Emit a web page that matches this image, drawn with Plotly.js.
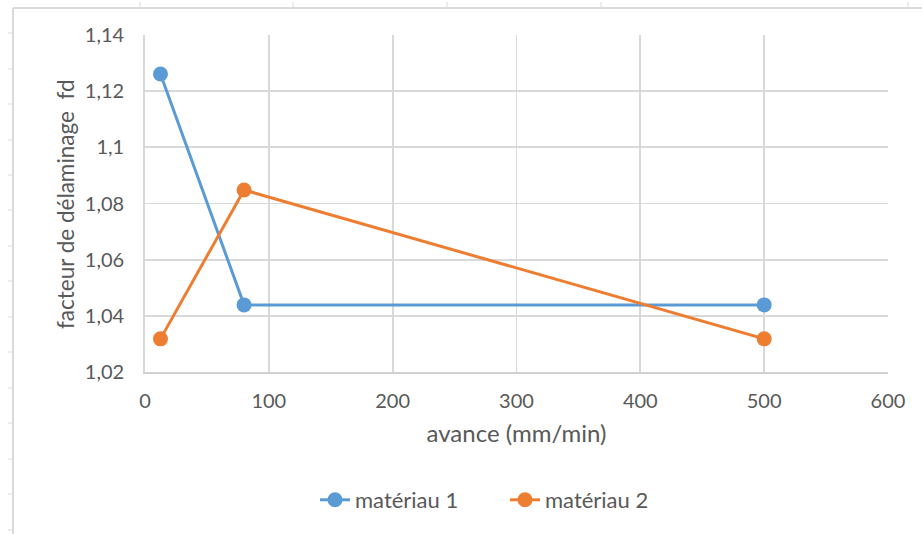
<!DOCTYPE html>
<html>
<head>
<meta charset="utf-8">
<script src="https://cdn.plot.ly/plotly-3.0.1.min.js"></script>
<style>html,body{margin:0;padding:0;background:#fff;}#chart{width:922px;height:534px;}</style>
</head>
<body>
<div id="chart"></div>
<script>
// Data
const avance = [12.5, 80, 500];
const materiau1 = [1.1261, 1.0439, 1.0439];
const materiau2 = [1.0318, 1.0848, 1.0318];
const seriesNames = ["matériau 1", "matériau 2"];
const xTickVals = [0, 100, 200, 300, 400, 500, 600];
const yTickVals = [1.02, 1.04, 1.06, 1.08, 1.1, 1.12, 1.14];
const yTickText = ["1,02", "1,04", "1,06", "1,08", "1,1", "1,12", "1,14"];
const xTitle = 'avance (mm/min)';
const yTitle = 'facteur de délaminage\u00A0 fd';

const W = 922, H = 534;
const M = {l: 145, r: 34, t: 35, b: 162};
const pw = W - M.l - M.r, ph = H - M.t - M.b;
const px = x => (x - M.l) / pw;
const py = y => 1 - (y - M.t) / ph;

const sheetColor = '#DADADA';
const shapes = [];
// spreadsheet frame lines
shapes.push({type: 'line', xref: 'paper', yref: 'paper', x0: px(13), x1: px(13), y0: py(8), y1: py(534), line: {color: sheetColor, width: 2}});
shapes.push({type: 'line', xref: 'paper', yref: 'paper', x0: px(13), x1: px(922), y0: py(8), y1: py(8), line: {color: sheetColor, width: 2}});
[33, 69, 104, 140, 175, 210, 246, 281, 317, 352, 388, 423, 459, 494, 530].forEach(y => {
  shapes.push({type: 'line', xref: 'paper', yref: 'paper', x0: px(8), x1: px(13), y0: py(y), y1: py(y), line: {color: sheetColor, width: 1}});
});
[140, 293, 447, 601, 908].forEach(x => {
  shapes.push({type: 'line', xref: 'paper', yref: 'paper', x0: px(x), x1: px(x), y0: py(2), y1: py(8), line: {color: sheetColor, width: 1}});
});

const font = {family: 'Lato, "Open Sans", sans-serif', color: '#595959'};

const traces = [
  {x: avance, y: materiau1, name: seriesNames[0], type: 'scatter', mode: 'lines+markers',
   line: {color: '#5B9BD5', width: 3}, marker: {color: '#5B9BD5', size: 15}},
  {x: avance, y: materiau2, name: seriesNames[1], type: 'scatter', mode: 'lines+markers',
   line: {color: '#ED7D31', width: 3}, marker: {color: '#ED7D31', size: 15}}
];

const layout = {
  width: W, height: H,
  margin: M,
  paper_bgcolor: '#fff', plot_bgcolor: '#fff',
  font: Object.assign({size: 20}, font),
  showlegend: true,
  legend: {orientation: 'h', x: px(315), xanchor: 'left', y: py(500), yanchor: 'middle',
           font: Object.assign({size: 22}, font), entrywidth: 145, entrywidthmode: 'pixels'},
  xaxis: {
    range: [0, 600], tickvals: xTickVals, ticktext: xTickVals.map(String),
    showgrid: true, gridcolor: '#D9D9D9', gridwidth: 1.8,
    zeroline: false, showline: true, linecolor: '#D0D0D0', linewidth: 1.8,
    ticks: 'outside', ticklen: 10, tickcolor: 'rgba(0,0,0,0)',
    tickfont: Object.assign({size: 20}, font),
    title: {text: xTitle, font: Object.assign({size: 24}, font), standoff: 14},
    fixedrange: true
  },
  yaxis: {
    range: [1.02, 1.14], tickvals: yTickVals, ticktext: yTickText,
    showgrid: true, gridcolor: '#D9D9D9', gridwidth: 1.8,
    zeroline: false, showline: true, linecolor: '#D9D9D9', linewidth: 1.8,
    ticks: 'outside', ticklen: 15, tickcolor: 'rgba(0,0,0,0)',
    tickfont: Object.assign({size: 20}, font),
    fixedrange: true
  },
  annotations: [{
    text: yTitle, xref: 'paper', yref: 'paper', x: px(65), y: py(204),
    xanchor: 'center', yanchor: 'middle', textangle: -90, showarrow: false,
    font: Object.assign({size: 22.5}, font)
  }],
  shapes: shapes
};

Plotly.newPlot('chart', traces, layout, {displayModeBar: false, staticPlot: true});
</script>
</body>
</html>
